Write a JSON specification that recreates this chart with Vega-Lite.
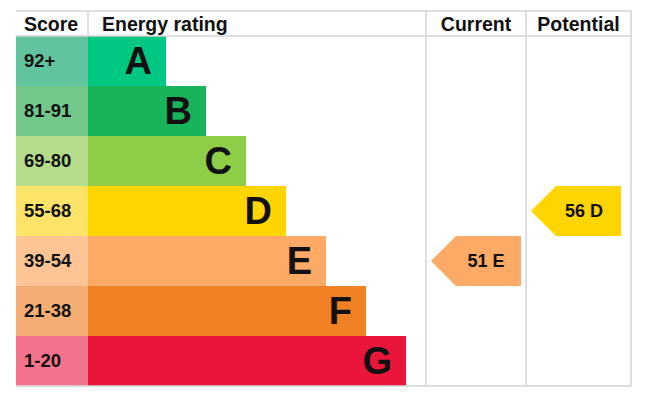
{
  "$schema": "https://vega.github.io/schema/vega-lite/v6.json",
  "width": 672,
  "height": 405,
  "autosize": {"type": "none"},
  "padding": 0,
  "background": "white",
  "config": {
    "view": {"stroke": null},
    "text": {"font": "Liberation Sans", "color": "#111111"}
  },
  "datasets": {
    "ratings": [
      {"rating": "A", "score_range": "92+", "rank": 1},
      {"rating": "B", "score_range": "81-91", "rank": 2},
      {"rating": "C", "score_range": "69-80", "rank": 3},
      {"rating": "D", "score_range": "55-68", "rank": 4},
      {"rating": "E", "score_range": "39-54", "rank": 5},
      {"rating": "F", "score_range": "21-38", "rank": 6},
      {"rating": "G", "score_range": "1-20", "rank": 7}
    ],
    "current": [{"type": "Current", "score": 51, "rating": "E", "rank": 5}],
    "potential": [{"type": "Potential", "score": 56, "rating": "D", "rank": 4}]
  },
  "data": {"name": "ratings"},
  "layer": [
    {
      "mark": {"type": "bar", "orient": "horizontal", "size": 50},
      "encoding": {
        "x": {"datum": -2.75, "type": "quantitative", "scale": {"domain": [-3.15, 13.65], "nice": false, "zero": false, "padding": 0}, "axis": null},
        "x2": {"datum": -0.95},
        "y": {"field": "rank", "type": "quantitative", "scale": {"domain": [-0.22, 7.88], "reverse": true, "nice": false, "zero": false, "padding": 0}, "axis": null},
        "fill": {"field": "rating", "type": "nominal", "legend": null,
          "scale": {"domain": ["A", "B", "C", "D", "E", "F", "G"],
                    "range": ["#62c49f", "#72c78a", "#b4dc8a", "#fee36b", "#fdc596", "#f4ad72", "#f2738b"]}}
      }
    },
    {
      "mark": {"type": "bar", "orient": "horizontal", "size": 50},
      "encoding": {
        "x": {"field": "rank", "type": "quantitative", "axis": null},
        "x2": {"datum": -0.95},
        "y": {"field": "rank", "type": "quantitative", "axis": null},
        "color": {"field": "rating", "type": "nominal", "legend": null,
          "scale": {"domain": ["A", "B", "C", "D", "E", "F", "G"],
                    "range": ["#00c781", "#19b459", "#8dce46", "#ffd500", "#fcaa65", "#ef8023", "#e9153b"]}}
      }
    },
    {
      "mark": {"type": "text", "align": "left", "baseline": "middle", "fontSize": 18.5, "fontWeight": "bold", "dy": 0},
      "encoding": {
        "x": {"datum": -2.55, "type": "quantitative", "axis": null},
        "y": {"field": "rank", "type": "quantitative", "axis": null},
        "text": {"field": "score_range"}
      }
    },
    {
      "mark": {"type": "text", "align": "right", "baseline": "middle", "fontSize": 38, "fontWeight": "bold", "dx": -14, "dy": 2},
      "encoding": {
        "x": {"field": "rank", "type": "quantitative", "axis": null},
        "y": {"field": "rank", "type": "quantitative", "axis": null},
        "text": {"field": "rating"}
      }
    },
    {
      "data": {"name": "current"},
      "transform": [
        {"calculate": "datum.score + ' ' + datum.rating", "as": "label"}
      ],
      "layer": [
        {
          "mark": {"type": "point", "filled": true, "opacity": 1, "size": 8100, "strokeWidth": 0,
                   "shape": "M-1,0L-0.4444,-0.5556L1,-0.5556L1,0.5556L-0.4444,0.5556Z"},
          "encoding": {
            "x": {"datum": 8.75, "type": "quantitative", "axis": null},
            "y": {"field": "rank", "type": "quantitative", "axis": null},
            "color": {"field": "rating", "type": "nominal", "legend": null}
          }
        },
        {
          "mark": {"type": "text", "align": "center", "baseline": "middle", "fontSize": 18, "fontWeight": "bold", "dx": 10, "dy": 1},
          "encoding": {
            "x": {"datum": 8.75, "type": "quantitative", "axis": null},
            "y": {"field": "rank", "type": "quantitative", "axis": null},
            "text": {"field": "label"}
          }
        }
      ]
    },
    {
      "data": {"name": "potential"},
      "transform": [
        {"calculate": "datum.score + ' ' + datum.rating", "as": "label"}
      ],
      "layer": [
        {
          "mark": {"type": "point", "filled": true, "opacity": 1, "size": 8100, "strokeWidth": 0,
                   "shape": "M-1,0L-0.4444,-0.5556L1,-0.5556L1,0.5556L-0.4444,0.5556Z"},
          "encoding": {
            "x": {"datum": 11.25, "type": "quantitative", "axis": null},
            "y": {"field": "rank", "type": "quantitative", "axis": null},
            "color": {"field": "rating", "type": "nominal", "legend": null}
          }
        },
        {
          "mark": {"type": "text", "align": "center", "baseline": "middle", "fontSize": 18, "fontWeight": "bold", "dx": 8, "dy": 1},
          "encoding": {
            "x": {"datum": 11.25, "type": "quantitative", "axis": null},
            "y": {"field": "rank", "type": "quantitative", "axis": null},
            "text": {"field": "label"}
          }
        }
      ]
    },
    {
      "data": {"values": [{}]},
      "layer": [
        {"mark": {"type": "rule", "color": "#d4d4d4", "strokeWidth": 1.5},
         "encoding": {"x": {"datum": -2.75, "type": "quantitative", "axis": null}, "x2": {"datum": 12.625}, "y": {"datum": 0, "type": "quantitative", "axis": null}}},
        {"mark": {"type": "rule", "color": "#d4d4d4", "strokeWidth": 1.5},
         "encoding": {"x": {"datum": -2.75, "type": "quantitative", "axis": null}, "x2": {"datum": 12.625}, "y": {"datum": 0.5, "type": "quantitative", "axis": null}}},
        {"mark": {"type": "rule", "color": "#d4d4d4", "strokeWidth": 1.5},
         "encoding": {"x": {"datum": -2.75, "type": "quantitative", "axis": null}, "x2": {"datum": 12.625}, "y": {"datum": 7.5, "type": "quantitative", "axis": null}}},
        {"mark": {"type": "rule", "color": "#d4d4d4", "strokeWidth": 1.5},
         "encoding": {"x": {"datum": -0.95, "type": "quantitative", "axis": null}, "y": {"datum": 0, "type": "quantitative", "axis": null}, "y2": {"datum": 0.5}}},
        {"mark": {"type": "rule", "color": "#d4d4d4", "strokeWidth": 1.5},
         "encoding": {"x": {"datum": 7.5, "type": "quantitative", "axis": null}, "y": {"datum": 0, "type": "quantitative", "axis": null}, "y2": {"datum": 7.5}}},
        {"mark": {"type": "rule", "color": "#d4d4d4", "strokeWidth": 1.5},
         "encoding": {"x": {"datum": 10, "type": "quantitative", "axis": null}, "y": {"datum": 0, "type": "quantitative", "axis": null}, "y2": {"datum": 7.5}}},
        {"mark": {"type": "rule", "color": "#d4d4d4", "strokeWidth": 1.5},
         "encoding": {"x": {"datum": 12.625, "type": "quantitative", "axis": null}, "y": {"datum": 0, "type": "quantitative", "axis": null}, "y2": {"datum": 7.5}}},
        {"mark": {"type": "text", "text": "Score", "align": "left", "baseline": "middle", "fontSize": 19.5, "fontWeight": "bold", "dy": 1},
         "encoding": {"x": {"datum": -2.55, "type": "quantitative", "axis": null}, "y": {"datum": 0.25, "type": "quantitative", "axis": null}}},
        {"mark": {"type": "text", "text": "Energy rating", "align": "left", "baseline": "middle", "fontSize": 19.5, "fontWeight": "bold", "dy": 1},
         "encoding": {"x": {"datum": -0.6, "type": "quantitative", "axis": null}, "y": {"datum": 0.25, "type": "quantitative", "axis": null}}},
        {"mark": {"type": "text", "text": "Current", "align": "center", "baseline": "middle", "fontSize": 19.5, "fontWeight": "bold", "dy": 1},
         "encoding": {"x": {"datum": 8.75, "type": "quantitative", "axis": null}, "y": {"datum": 0.25, "type": "quantitative", "axis": null}}},
        {"mark": {"type": "text", "text": "Potential", "align": "center", "baseline": "middle", "fontSize": 19.5, "fontWeight": "bold", "dy": 1},
         "encoding": {"x": {"datum": 11.3125, "type": "quantitative", "axis": null}, "y": {"datum": 0.25, "type": "quantitative", "axis": null}}}
      ]
    }
  ]
}
